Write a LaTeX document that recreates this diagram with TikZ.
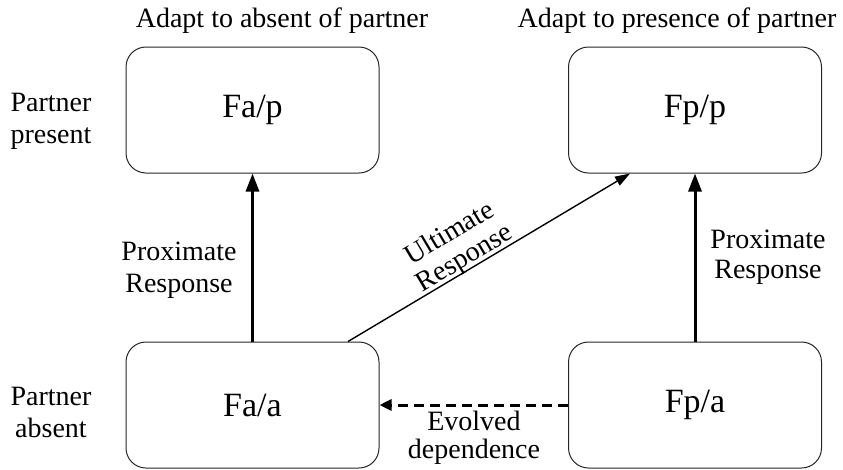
\documentclass[tikz,border=0pt]{standalone}
\usepackage{fontspec}
\setmainfont{Liberation Serif}
\usetikzlibrary{arrows.meta}
\begin{document}
\begin{tikzpicture}[x=1pt,y=-1pt,
  statebox/.style={draw=black!85, line width=1pt, rounded corners=20pt,
    minimum width=253pt, minimum height=126pt, inner sep=0pt,
    font=\fontsize{34}{40}\selectfont},
  lbl/.style={font=\fontsize{28}{32}\selectfont, align=center, inner sep=0pt},
  thickarrow/.style={line width=3pt, -{Triangle[width=13pt,length=18pt]}},
  thinarrow/.style={line width=1.4pt, -{Triangle[width=10pt,length=15pt]}},
  dasharrow/.style={line width=3pt, dash pattern=on 10pt off 6pt,
    -{Triangle[width=11pt,length=12pt]}}
]
\useasboundingbox (0,0) rectangle (843,469);

\node[statebox] (fap) at (252.5,110) {Fa/p};
\node[statebox] (fpp) at (695,110) {Fp/p};
\node[statebox] (faa) at (252.5,405) {Fa/a};
\node[statebox] (fpa) at (695,405) {Fp/a};

\node[lbl, anchor=base] (tabs) at (282,27) {Adapt to absent of partner};
\node[lbl, anchor=base] (tpres) at (677,27) {Adapt to presence of partner};
\node[lbl, anchor=base] (ppres) at (51,143) {Partner\\present};
\node[lbl, anchor=base] (pabs) at (51,437) {Partner\\absent};

\draw[thickarrow] (faa.north) -- (fap.south)
  node[lbl, anchor=base] (proxl) at (179,292) {Proximate\\Response};
\draw[thickarrow] (fpa.north) -- (fpp.south)
  node[lbl, anchor=base, font=\fontsize{28}{30}\selectfont] (proxr) at (768,278) {Proximate\\Response};
\draw[thinarrow] ([xshift=95.5pt]faa.north) -- ([xshift=-65pt]fpp.south)
  node[lbl, pos=0.435, sloped, above=-2.5pt,
       font=\fontsize{28}{29}\selectfont] (ult) {Ultimate\\Response};
\draw[dasharrow] (fpa.west) -- (faa.east);
\node[lbl, anchor=base, font=\fontsize{28}{28}\selectfont] (evo) at (474,458) {Evolved\\dependence};
\end{tikzpicture}
\end{document}
